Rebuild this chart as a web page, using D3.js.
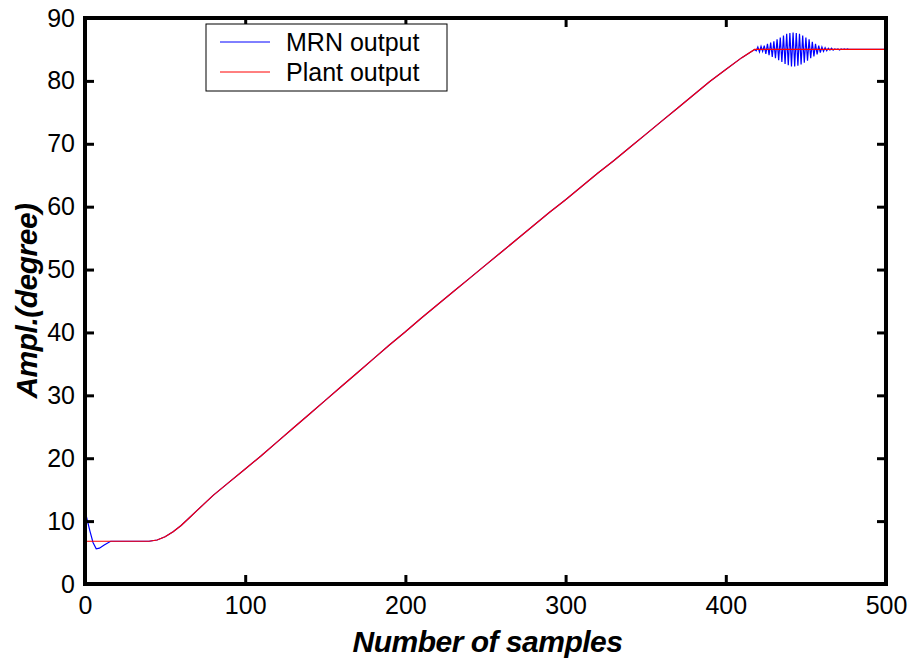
<!DOCTYPE html>
<html>
<head>
<meta charset="utf-8">
<script src="https://cdn.jsdelivr.net/npm/d3@7"></script>
<style>
  html, body { margin: 0; padding: 0; background: #fff; }
  svg { display: block; }
  text { font-family: "Liberation Sans", Arial, sans-serif; fill: #000; }
</style>
</head>
<body>
<svg id="chart" width="916" height="667"></svg>
<script>
// ---- data ----
const xTicks = [0, 100, 200, 300, 400, 500];
const yTicks = [0, 10, 20, 30, 40, 50, 60, 70, 80, 90];
const seriesNames = ["MRN output", "Plant output"];
const seriesColors = ["#0000ff", "#ff0000"];

// Plant output: [sample, value]
const plantSamples = [0, 40, 45, 50, 55, 60, 65, 70, 75, 80, 90, 100, 110, 120, 130, 140, 150, 160, 170, 180, 190, 200,
  210, 220, 230, 240, 250, 260, 270, 280, 290, 300, 310, 320, 330, 340, 350, 360, 370, 380, 390, 400, 410, 418, 500];
const plantValues = [6.8, 6.8, 7.0, 7.5, 8.3, 9.3, 10.5, 11.7, 12.9, 14.1, 16.2, 18.3, 20.4, 22.6, 24.8, 27.0, 29.2, 31.4, 33.6, 35.8, 38.0, 40.1,
  42.3, 44.4, 46.5, 48.6, 50.7, 52.8, 54.9, 57.0, 59.1, 61.1, 63.2, 65.3, 67.3, 69.4, 71.5, 73.6, 75.7, 77.8, 79.9, 81.8, 83.7, 85.0, 85.0];

// MRN output: initial transient
const mrnStartSamples = [0, 1, 3, 5, 7, 9, 12, 16];
const mrnStartValues = [11.8, 10.6, 8.5, 6.6, 5.6, 5.7, 6.2, 6.8];
// MRN output: oscillation after reaching the plateau (samples 418..478)
const mrnOscStart = 418;
const mrnOscValues = [85.0, 84.8, 85.4, 84.6, 85.5, 84.7, 85.6, 84.3, 85.9, 84.1,
  86.1, 83.8, 86.3, 83.6, 86.6, 83.3, 86.9, 83.0, 87.2, 82.7,
  87.5, 82.5, 87.6, 82.3, 87.7, 82.3, 87.6, 82.4, 87.5, 82.6,
  87.2, 82.9, 86.9, 83.2, 86.6, 83.6, 86.2, 83.9, 85.9, 84.2,
  85.6, 84.5, 85.4, 84.7, 85.3, 84.8, 85.2, 84.9, 85.2, 84.9,
  85.1, 85.0, 85.1, 84.9, 85.1, 85.0, 85.1, 85.0, 85.1, 85.0, 85.0];

// ---- build series ----
const plant = plantSamples.map((s, i) => [s, plantValues[i]]);
const mrn = mrnStartSamples.map((s, i) => [s, mrnStartValues[i]])
  .concat(plant.filter(d => d[0] > 16 && d[0] < mrnOscStart))
  .concat(mrnOscValues.map((v, i) => [mrnOscStart + i, v]))
  .concat([[500, 85.0]]);

// ---- layout ----
const svg = d3.select("#chart");
const L = 85, R = 886, T = 18, B = 584;
const x = d3.scaleLinear().domain([0, 500]).range([L, R]);
const y = d3.scaleLinear().domain([0, 90]).range([B, T]);

const line = d3.line().x(d => x(d[0])).y(d => y(d[1]));

const plotG = svg.append("g");
plotG.append("path").datum(mrn).attr("d", line)
  .attr("fill", "none").attr("stroke", seriesColors[0]).attr("stroke-width", 1.2);
plotG.append("path").datum(plant).attr("d", line)
  .attr("fill", "none").attr("stroke", seriesColors[1]).attr("stroke-width", 1.2);

// ---- axes ----
const tickLen = 9;
const axB = svg.append("g").attr("transform", `translate(0,${B})`)
  .call(d3.axisBottom(x).tickValues(xTicks).tickSize(-tickLen).tickPadding(12));
const axT = svg.append("g").attr("transform", `translate(0,${T})`)
  .call(d3.axisTop(x).tickValues(xTicks).tickSize(-tickLen).tickFormat(""));
const axL = svg.append("g").attr("transform", `translate(${L},0)`)
  .call(d3.axisLeft(y).tickValues(yTicks).tickSize(-tickLen).tickPadding(10));
const axR = svg.append("g").attr("transform", `translate(${R},0)`)
  .call(d3.axisRight(y).tickValues(yTicks).tickSize(-tickLen).tickFormat(""));

[axB, axT, axL, axR].forEach(a => {
  a.select(".domain").remove();
  a.selectAll(".tick line").attr("stroke", "#000").attr("stroke-width", 3);
  a.selectAll(".tick text").attr("font-size", 25).attr("font-family", "Liberation Sans, Arial, sans-serif");
});
axB.selectAll(".tick text").attr("dy", "0.71em");

// frame
svg.append("rect").attr("x", L).attr("y", T).attr("width", R - L).attr("height", B - T)
  .attr("fill", "none").attr("stroke", "#000").attr("stroke-width", 4);

// axis titles
svg.append("text").attr("x", (L + R) / 2 + 2).attr("y", 652)
  .attr("text-anchor", "middle").attr("font-size", 30).attr("font-weight", "bold").attr("font-style", "italic")
  .attr("letter-spacing", -0.5)
  .text("Number of samples");
svg.append("text").attr("transform", `translate(37,${(T + B) / 2}) rotate(-90)`)
  .attr("text-anchor", "middle").attr("font-size", 30).attr("font-weight", "bold").attr("font-style", "italic")
  .attr("letter-spacing", -0.5)
  .text("Ampl.(degree)");

// legend
const lg = svg.append("g");
lg.append("rect").attr("x", 206).attr("y", 24).attr("width", 241).attr("height", 67)
  .attr("fill", "#fff").attr("stroke", "#000").attr("stroke-width", 1);
seriesNames.forEach((n, i) => {
  const yy = 42 + i * 30;
  lg.append("line").attr("x1", 220).attr("x2", 270).attr("y1", yy).attr("y2", yy)
    .attr("stroke", seriesColors[i]).attr("stroke-width", 1);
  lg.append("text").attr("x", 286).attr("y", yy).attr("dy", "0.35em")
    .attr("font-size", 25).text(n);
});
</script>
</body>
</html>
